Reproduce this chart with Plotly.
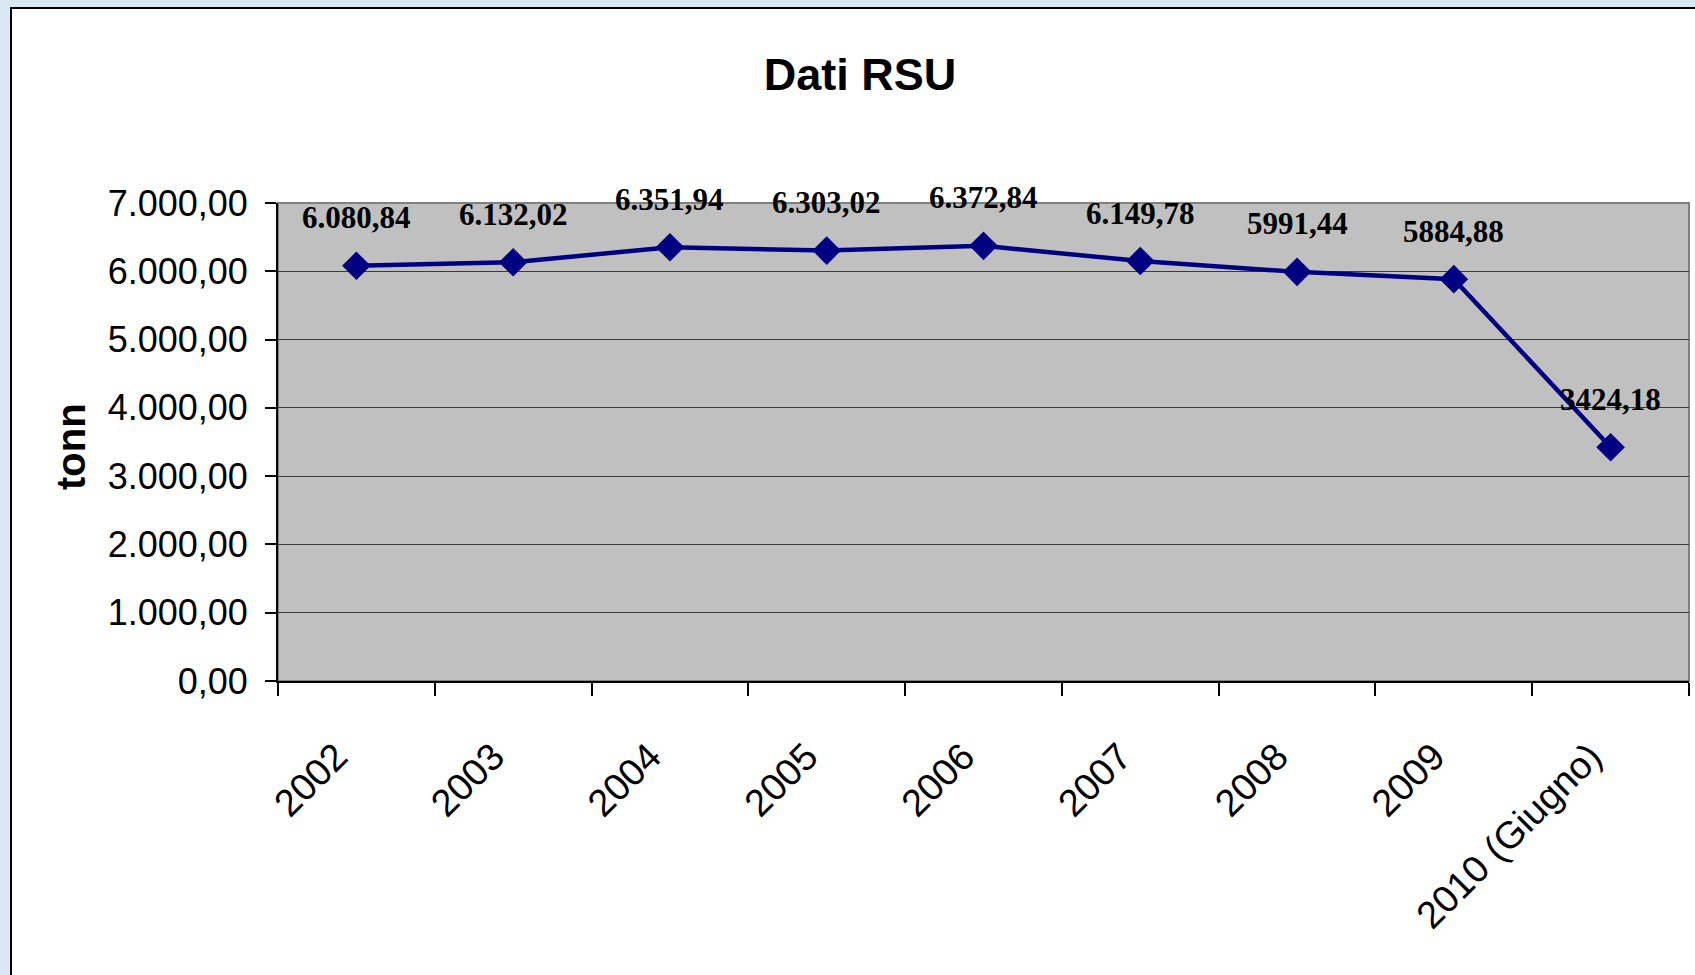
import plotly.graph_objects as go

categories = ["2002", "2003", "2004", "2005", "2006", "2007", "2008", "2009", "2010 (Giugno)"]
values = [6080.84, 6132.02, 6351.94, 6303.02, 6372.84, 6149.78, 5991.44, 5884.88, 3424.18]
labels = ["6.080,84", "6.132,02", "6.351,94", "6.303,02", "6.372,84", "6.149,78", "5991,44", "5884,88", "3424,18"]
y_ticks = [0, 1000, 2000, 3000, 4000, 5000, 6000, 7000]

W, H = 1695, 975
L, R, T, B = 278, 6, 203, 294
pw, ph = W - L - R, H - T - B

def px_x(x):
    return (x - L) / pw

def px_y(y):
    return (H - B - y) / ph

fig = go.Figure()
fig.add_trace(go.Scatter(
    x=categories, y=values, mode="lines+markers",
    line=dict(color="#000080", width=4.5),
    marker=dict(symbol="diamond", size=22, color="#000080"),
    showlegend=False, hoverinfo="skip",
))

for i, (v, t) in enumerate(zip(values, labels)):
    fig.add_annotation(x=i, y=v, xref="x", yref="y", text=f"<b>{t}</b>", showarrow=False,
                       yshift=48, xanchor="center", yanchor="middle",
                       font=dict(family="Liberation Serif", size=31, color="black"))

fig.add_annotation(xref="paper", yref="paper", x=px_x(71), y=px_y(447),
                   text="<b>tonn</b>",
                   textangle=-90, showarrow=False, xanchor="center", yanchor="middle",
                   font=dict(family="Liberation Sans", size=40, color="black"))

shapes = [
    dict(type="rect", xref="paper", yref="paper", layer="below",
         x0=px_x(11), x1=px_x(1720), y0=px_y(8), y1=px_y(1000),
         fillcolor="white", line=dict(color="black", width=2)),
    dict(type="rect", xref="paper", yref="paper", layer="below",
         x0=0, x1=1, y0=0, y1=1, fillcolor="#C0C0C0", line=dict(color="#808080", width=2)),
]

fig.update_layout(
    width=W, height=H,
    margin=dict(l=L, r=R, t=T, b=B, pad=0),
    paper_bgcolor="#DAE7F4",
    plot_bgcolor="#C0C0C0",
    separators=",.",
    shapes=shapes,
    title=dict(text="<b>Dati RSU</b>", xref="container", yref="container",
               x=860 / W, y=1 - 74 / H, xanchor="center", yanchor="middle",
               font=dict(family="Liberation Sans", size=45, color="black")),
    xaxis=dict(type="category", tickson="boundaries", ticks="outside", ticklen=13,
               tickcolor="black", tickwidth=1.5, showline=True, linecolor="black", linewidth=2,
               showgrid=False, tickangle=-45, ticklabelstandoff=36, ticklabelshift=-20,
               tickfont=dict(family="Liberation Sans", size=38, color="black"),
               range=[-0.5, len(categories) - 0.5]),
    yaxis=dict(range=[0, 7000], tickvals=y_ticks, tickformat=",.2f", ticks="outside",
               ticklen=11, tickcolor="black", tickwidth=1.5, showline=True, linecolor="black",
               linewidth=2, showgrid=True, gridcolor="#3a3a3a", gridwidth=1,
               zeroline=False, ticklabelstandoff=10,
               tickfont=dict(family="Liberation Sans", size=36, color="black")),
)

fig.write_html("out.html", config={"displayModeBar": False},
               post_script="document.body.style.margin='0';")
